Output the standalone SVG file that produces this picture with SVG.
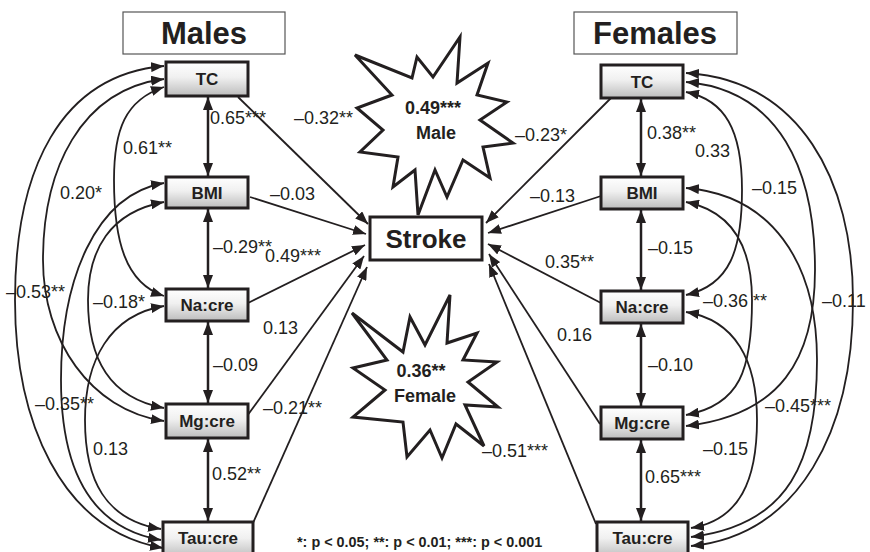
<svg xmlns="http://www.w3.org/2000/svg" width="870" height="552" viewBox="0 0 870 552">
<defs>
<linearGradient id="ng" x1="0" y1="0" x2="0" y2="1">
<stop offset="0" stop-color="#ffffff"/>
<stop offset="0.45" stop-color="#f0f0f0"/>
<stop offset="1" stop-color="#bcbcbc"/>
</linearGradient>
<marker id="ah" markerUnits="userSpaceOnUse" markerWidth="13" markerHeight="10" refX="13" refY="5" orient="auto-start-reverse" viewBox="0 0 13 10">
<path d="M0,0 L13,5 L0,10 z" fill="#231f20"/>
</marker>
<style>
.node rect{fill:url(#ng);stroke:#231f20;stroke-width:3}
.node text{font-family:"Liberation Sans",Arial,sans-serif;font-weight:bold;font-size:17px;fill:#231f20;text-anchor:middle}
.title rect{fill:#fff;stroke:#555;stroke-width:1.2}
.title text{font-family:"Liberation Sans",Arial,sans-serif;font-weight:bold;font-size:31px;fill:#231f20;text-anchor:middle}
.star polygon{fill:#fff;stroke:#231f20;stroke-width:3;stroke-linejoin:miter}
.star text{font-family:"Liberation Sans",Arial,sans-serif;font-weight:bold;font-size:18px;fill:#231f20;text-anchor:middle}
.c path,.c line{fill:none;stroke:#231f20;stroke-width:1.8}
.c .v{stroke-width:2.5}
.both{marker-start:url(#ah);marker-end:url(#ah)}
.one{marker-end:url(#ah)}
.lbl text{font-family:"Liberation Sans",Arial,sans-serif;font-size:18px;fill:#231f20}
.legend{font-family:"Liberation Sans",Arial,sans-serif;font-weight:bold;font-size:14.4px;fill:#231f20}
</style>
</defs>
<rect width="870" height="552" fill="#fff"/>

<g id="connectors" class="c">
<!-- Male correlations (left) -->
<path class="both" d="M164,66 C60,75 15,170 15,300 C15,420 60,530 163,548"/>
<path class="both" d="M164,79 C80,90 43,170 43,260 C43,340 90,410 164,421"/>
<path class="both" d="M164,87 C125,100 114,130 114,180 C114,240 125,283 164,296"/>
<path class="both" d="M164,183 C95,195 61,280 61,380 C61,470 90,528 161,540"/>
<path class="both" d="M164,202 C110,212 88,250 88,300 C88,360 110,398 164,408"/>
<path class="both" d="M164,306 C110,315 85,360 85,420 C85,480 105,520 161,529"/>
<!-- Male vertical -->
<line class="v both" x1="208" y1="97" x2="208" y2="176"/>
<line class="v both" x1="208" y1="209" x2="208" y2="288"/>
<line class="v both" x1="208" y1="322" x2="208" y2="403"/>
<line class="v both" x1="208" y1="439" x2="208" y2="521"/>
<!-- Male to Stroke -->
<line class="one" x1="238" y1="97" x2="368" y2="224"/>
<line class="one" x1="250" y1="197" x2="366" y2="234"/>
<line class="one" x1="248" y1="303" x2="365" y2="245"/>
<line class="one" x1="247" y1="416" x2="364" y2="256"/>
<line class="one" x1="253" y1="523" x2="367" y2="267"/>
<!-- Female correlations (right) -->
<path class="both" d="M686,73 C800,80 853,180 853,300 C853,430 800,535 691,546"/>
<path class="both" d="M686,82 C780,90 815,170 815,270 C815,360 780,415 686,426"/>
<path class="both" d="M686,92 C725,100 742,130 742,190 C742,250 730,285 686,295"/>
<path class="both" d="M686,188 C770,195 817,260 817,360 C817,460 790,525 691,537"/>
<path class="both" d="M686,202 C735,212 752,250 752,300 C752,370 740,405 686,415"/>
<path class="both" d="M686,312 C735,320 757,360 757,420 C757,480 740,520 691,528"/>
<!-- Female vertical -->
<line class="v both" x1="641" y1="99" x2="641" y2="176"/>
<line class="v both" x1="641" y1="210" x2="641" y2="290"/>
<line class="v both" x1="641" y1="324" x2="641" y2="406"/>
<line class="v both" x1="641" y1="440" x2="641" y2="521"/>
<!-- Female to Stroke -->
<line class="one" x1="611" y1="98" x2="486" y2="223"/>
<line class="one" x1="601" y1="196" x2="488" y2="233"/>
<line class="one" x1="601" y1="303" x2="488" y2="244"/>
<line class="one" x1="600" y1="424" x2="489" y2="254"/>
<line class="one" x1="596" y1="524" x2="489" y2="264"/>
</g>

<g id="title-males" class="title"><rect x="123" y="12" width="162" height="42"/><text x="204" y="44">Males</text></g>
<g id="title-females" class="title"><rect x="574" y="12" width="163" height="42"/><text x="655" y="44">Females</text></g>

<g id="star-male" class="star">
<polygon points="460,37 457,83 488,63 477,95 507,102 480,120 513,143 483,147 490,178 463,160 447,197 435,170 418,215 415,170 393,187 398,157 360,152 383,130 357,108 392,95 355,55 412,78 417,57 433,77"/>
<text x="433" y="114">0.49***</text>
<text x="436" y="139">Male</text>
</g>
<g id="star-female" class="star">
<polygon points="352,313 403,352 410,317 425,345 450,295 447,343 477,333 463,360 497,362 468,382 498,407 465,405 484,446 456,424 442,458 430,430 407,457 403,422 353,417 385,390 353,368 387,360"/>
<text x="421" y="377">0.36**</text>
<text x="425" y="402">Female</text>
</g>

<g id="m-tc" class="node"><rect x="166" y="62" width="82" height="34"/><text x="207" y="85">TC</text></g>
<g id="m-bmi" class="node"><rect x="166" y="177" width="82" height="31"/><text x="207" y="198.5">BMI</text></g>
<g id="m-na" class="node"><rect x="166" y="289" width="82" height="32"/><text x="207" y="311">Na:cre</text></g>
<g id="m-mg" class="node"><rect x="166" y="404" width="82" height="34"/><text x="207" y="427">Mg:cre</text></g>
<g id="m-tau" class="node"><rect x="163" y="522" width="90" height="36"/><text x="208" y="543.5">Tau:cre</text></g>

<g id="f-tc" class="node"><rect x="601" y="65" width="82" height="33"/><text x="642" y="87.5">TC</text></g>
<g id="f-bmi" class="node"><rect x="601" y="177" width="82" height="32"/><text x="642" y="199">BMI</text></g>
<g id="f-na" class="node"><rect x="601" y="291" width="82" height="32"/><text x="642" y="313">Na:cre</text></g>
<g id="f-mg" class="node"><rect x="601" y="407" width="82" height="32"/><text x="642" y="429">Mg:cre</text></g>
<g id="f-tau" class="node"><rect x="597" y="522" width="91" height="36"/><text x="642.5" y="543.5">Tau:cre</text></g>

<g id="stroke"><rect x="370" y="217" width="112" height="43" fill="#fff" stroke="#231f20" stroke-width="3"/><text x="426" y="247.5" font-family="Liberation Sans, Arial, sans-serif" font-weight="bold" font-size="26" fill="#231f20" text-anchor="middle">Stroke</text></g>

<g id="labels" class="lbl">
<text x="210" y="124">0.65***</text>
<text x="294" y="124">–0.32**</text>
<text x="123" y="154">0.61**</text>
<text x="60" y="199">0.20*</text>
<text x="270" y="200">–0.03</text>
<text x="213" y="253">–0.29**</text>
<text x="265" y="262">0.49***</text>
<text x="6" y="298">–0.53**</text>
<text x="93" y="308">–0.18*</text>
<text x="263" y="334">0.13</text>
<text x="213" y="371">–0.09</text>
<text x="263" y="414">–0.21**</text>
<text x="35" y="410">–0.35**</text>
<text x="93" y="455">0.13</text>
<text x="212" y="480">0.52**</text>

<text x="515" y="141">–0.23*</text>
<text x="647" y="139">0.38**</text>
<text x="695" y="157">0.33</text>
<text x="530" y="202">–0.13</text>
<text x="752" y="194">–0.15</text>
<text x="648" y="254">–0.15</text>
<text x="545" y="268">0.35**</text>
<text x="703" y="307">–0.36 **</text>
<text x="822" y="307">–0.11</text>
<text x="557" y="341">0.16</text>
<text x="648" y="371">–0.10</text>
<text x="765" y="412">–0.45***</text>
<text x="482" y="457">–0.51***</text>
<text x="703" y="455">–0.15</text>
<text x="645" y="483">0.65***</text>
</g>

<text id="legend" class="legend" x="297" y="547">*: p &lt; 0.05; **: p &lt; 0.01; ***: p &lt; 0.001</text>
</svg>
